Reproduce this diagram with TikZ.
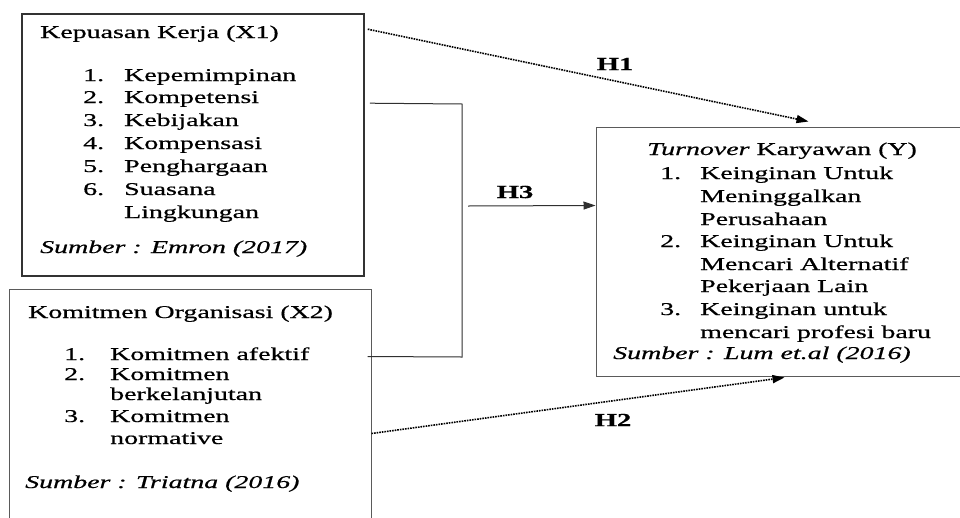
\documentclass[tikz,border=0pt]{standalone}
\usepackage{fontspec}
\setmainfont{Liberation Serif}[FakeStretch=1.55,FakeBold=0.6]
\usetikzlibrary{arrows.meta,calc}
\definecolor{boxgray}{HTML}{5A5A5A}
\definecolor{linegray}{HTML}{303030}
\begin{document}
\begin{tikzpicture}[x=1pt,y=-1pt,
  box/.style={draw=boxgray,line width=1pt,rectangle,inner sep=0pt},
  txt/.style={anchor=base west,inner sep=0pt,font=\fontsize{18}{20}\selectfont},
  hlab/.style={anchor=center,inner sep=0pt,font=\bfseries\fontsize{18.5}{20}\selectfont},
  conn/.style={draw=linegray,line width=1pt},
  arrowc/.style={conn,-{Triangle[length=12pt,width=8pt]}},
  dotarrow/.style={draw=black,line width=1.6pt,dash pattern=on 1.6pt off 1pt,-{Triangle[length=12pt,width=8pt]}}
]
\clip (0,0) rectangle (960,517);
\fill[white] (0,0) rectangle (960,517);

% boxes
\node[box,draw=black!80,line width=1.6pt,minimum width=342pt,minimum height=262pt] (b1) at (193,145) {};
\node[box,minimum width=362pt,minimum height=251pt] (b2) at (190,414.5) {};
\node[box,minimum width=379pt,minimum height=249pt] (b3) at (785.5,251.5) {};

% box 1 text
\node[txt] (t1) at (40,38) {Kepuasan Kerja (X1)};
\node[txt] (n11) at (83,81) {1.};
\node[txt] (i11) at (124,81) {Kepemimpinan};
\node[txt] (n12) at (83,103) {2.};
\node[txt] (i12) at (124,103) {Kompetensi};
\node[txt] (n13) at (83,126) {3.};
\node[txt] (i13) at (124,126) {Kebijakan};
\node[txt] (n14) at (83,149) {4.};
\node[txt] (i14) at (124,149) {Kompensasi};
\node[txt] (n15) at (83,172) {5.};
\node[txt] (i15) at (124,172) {Penghargaan};
\node[txt] (n16) at (83,195) {6.};
\node[txt] (i16) at (124,195) {Suasana};
\node[txt] (i17) at (124,218) {Lingkungan};
\node[txt] (s1) at (40,253) {\itshape Sumber : Emron (2017)};

% box 2 text
\node[txt] (t2) at (28,318) {Komitmen Organisasi (X2)};
\node[txt] (n21) at (64,360) {1.};
\node[txt] (i21) at (110,360) {Komitmen afektif};
\node[txt] (n22) at (64,380) {2.};
\node[txt] (i22) at (110,380) {Komitmen};
\node[txt] (i23) at (110,400) {berkelanjutan};
\node[txt] (n23) at (64,422) {3.};
\node[txt] (i24) at (110,422) {Komitmen};
\node[txt] (i25) at (110,444) {normative};
\node[txt] (s2) at (25,488) {\itshape Sumber : Triatna (2016)};

% box 3 text
\node[txt] (t3) at (647,155) {\textit{Turnover} Karyawan (Y)};
\node[txt] (n31) at (660,179) {1.};
\node[txt] (i31) at (700,179) {Keinginan Untuk};
\node[txt] (i32) at (700,202) {Meninggalkan};
\node[txt] (i33) at (700,225) {Perusahaan};
\node[txt] (n32) at (660,247) {2.};
\node[txt] (i34) at (700,247) {Keinginan Untuk};
\node[txt] (i35) at (700,270) {Mencari Alternatif};
\node[txt] (i36) at (700,292) {Pekerjaan Lain};
\node[txt] (n33) at (660,315) {3.};
\node[txt] (i37) at (700,315) {Keinginan untuk};
\node[txt] (i38) at (700,338) {mencari profesi baru};
\node[txt] (s3) at (613,359) {\itshape Sumber : Lum et.al (2016)};

% connectors
\coordinate (jtop) at (462,104);
\coordinate (jbot) at (462,357);
\coordinate (jmid) at (468,206);
\draw[dotarrow] ($(b1.north east)+(3,16)$) -- ($(b3.north west)+(213,-5)$);
\draw[dotarrow] ($(b2.north east)+(0,145)$) -- ($(b3.south west)+(189,1)$);
\draw[conn] ($(b1.north east)+(5,90)$) -- (jtop) -- (jbot) -- ($(b2.north east)+(-4,68)$);
\draw[arrowc] (jmid) -- ($(b3.north west)+(0,79)$);

% labels
\node[hlab] (h1) at (615,64) {H1};
\node[hlab] (h3) at (515,192) {H3};
\node[hlab] (h2) at (613,420) {H2};
\end{tikzpicture}
\end{document}
